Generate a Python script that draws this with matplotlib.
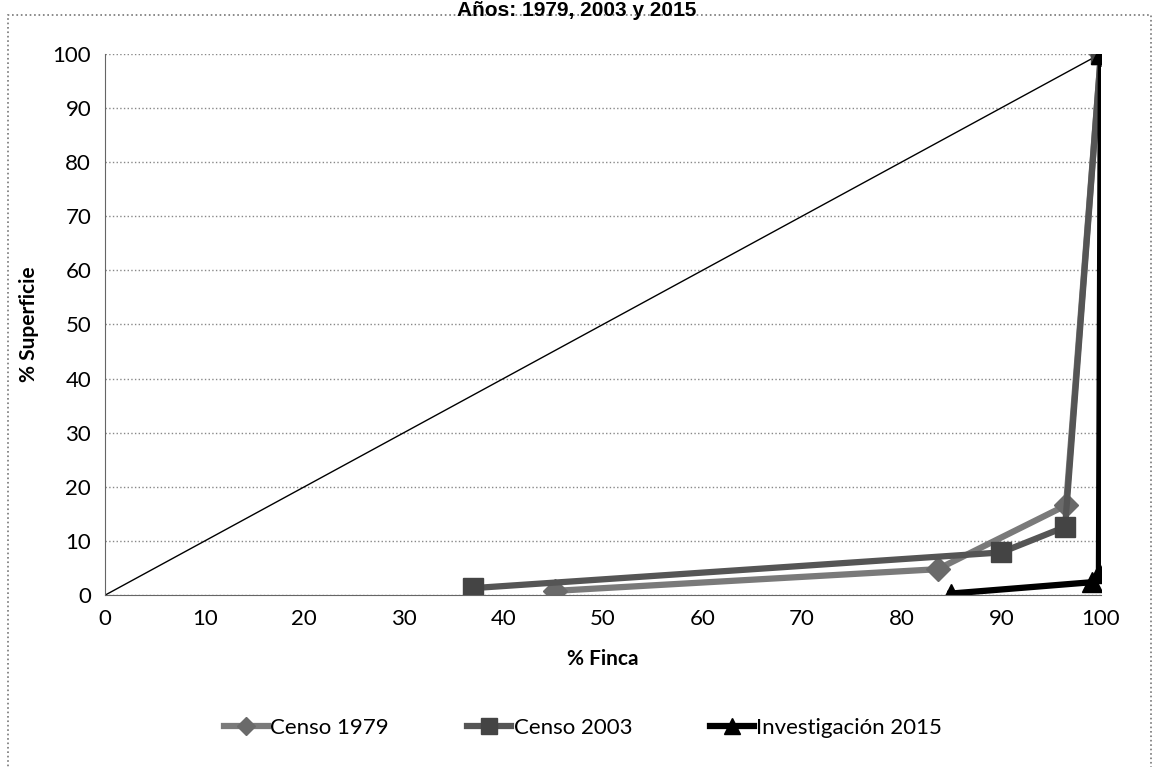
import matplotlib.pyplot as plt
from matplotlib.patches import Rectangle

# % Finca (x) vs % Superficie (y)
censo1979_x = [45.2, 83.6, 96.5, 100]
censo1979_y = [0.8, 4.8, 16.6, 100]

censo2003_x = [36.9, 90.0, 96.4, 100]
censo2003_y = [1.3, 7.9, 12.6, 100]

inv2015_x = [84.9, 99.1, 99.8, 100]
inv2015_y = [0.3, 2.4, 4.1, 100]

equidad_x = [0, 100]
equidad_y = [0, 100]

plt.rcParams['font.family'] = ['Lato', 'DejaVu Sans']

fig = plt.figure(figsize=(11.54, 7.67), dpi=100)
ax = fig.add_axes([0.091, 0.224, 0.863, 0.706])

ax.plot(equidad_x, equidad_y, color='black', lw=1.0)
ax.plot(censo1979_x, censo1979_y, color='#7a7a7a', lw=4.5, marker='D', ms=12,
        mfc='#6a6a6a', mec='#6a6a6a', label='Censo 1979')
ax.plot(censo2003_x, censo2003_y, color='#555555', lw=4.5, marker='s', ms=15,
        mfc='#444444', mec='#444444', label='Censo 2003')
ax.plot(inv2015_x, inv2015_y, color='black', lw=4.5, marker='^', ms=14,
        mfc='black', mec='black', label='Investigación 2015')

ax.set_xlim(0, 100)
ax.set_ylim(0, 100)
ax.set_xticks(range(0, 101, 10))
ax.set_yticks(range(0, 101, 10))
ax.tick_params(length=0, labelsize=16, pad=10)
ax.yaxis.grid(True, linestyle=':', color='#888888', lw=1)
ax.set_axisbelow(True)
for s in ['top', 'right']:
    ax.spines[s].set_visible(False)
ax.spines['left'].set_color('#666666')
ax.spines['bottom'].set_color('#666666')

ax.set_xlabel('% Finca', fontsize=15, fontweight='bold', labelpad=14)
ax.set_ylabel('% Superficie', fontsize=15, fontweight='bold', labelpad=10)

ax.legend(loc='upper center', bbox_to_anchor=(0.48, -0.19), ncol=3, frameon=False,
          fontsize=16, handlelength=2.0, handletextpad=0.1, columnspacing=3.5,
          markerscale=0.8)

fig.text(0.5, 1 - 1 / 767, 'Años: 1979, 2003 y 2015', ha='center', va='top',
         fontsize=15, fontweight='bold', family=['Liberation Sans', 'DejaVu Sans'])

fig.patches.append(Rectangle((0.007, -0.01), 0.99, 0.99, transform=fig.transFigure,
                             fill=False, ec='#777777', ls=':', lw=1.2))

fig.savefig('out.png', dpi=100)
